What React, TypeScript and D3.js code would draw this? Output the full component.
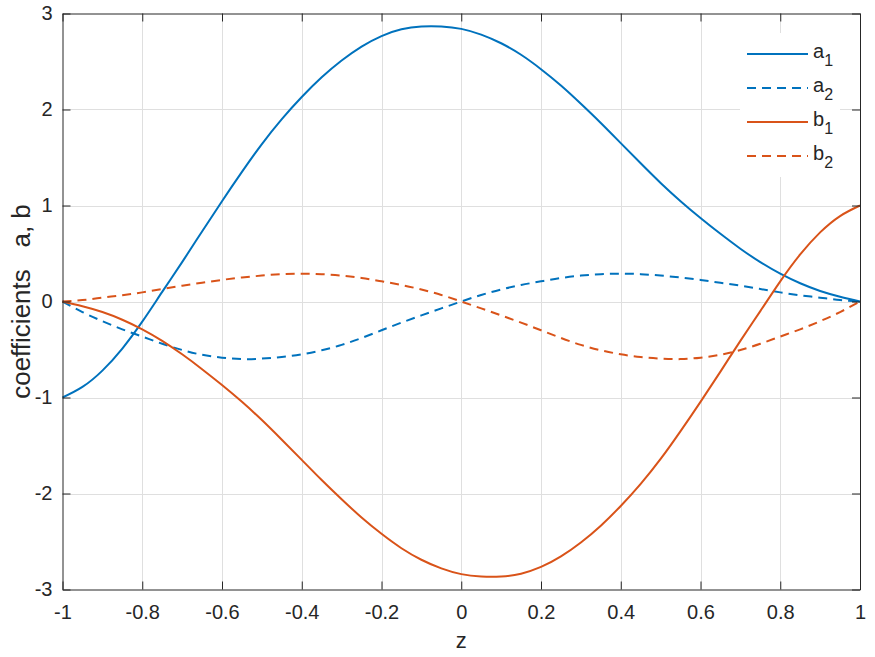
import React, { useEffect, useRef } from 'react'
import * as d3 from 'd3'

// sample positions along z
const zValues = [
  -1, -0.95, -0.9, -0.85, -0.8, -0.75, -0.7, -0.65, -0.6, -0.55, -0.5, -0.45, -0.4, -0.35, -0.3,
  -0.25, -0.2, -0.15, -0.1, -0.05, 0, 0.05, 0.1, 0.15, 0.2, 0.25, 0.3, 0.35, 0.4, 0.45, 0.5, 0.55,
  0.6, 0.65, 0.7, 0.75, 0.8, 0.85, 0.9, 0.95, 1,
]

// values
const a1 = [
  -1.0, -0.89, -0.72, -0.49, -0.21, 0.1, 0.41, 0.73, 1.045, 1.35, 1.64, 1.9, 2.13, 2.335, 2.51,
  2.655, 2.765, 2.835, 2.865, 2.865, 2.84, 2.78, 2.69, 2.57, 2.42, 2.25, 2.06, 1.86, 1.65, 1.44,
  1.235, 1.045, 0.87, 0.705, 0.55, 0.41, 0.29, 0.19, 0.11, 0.05, 0.0,
]
const a2 = [
  0, -0.11, -0.205, -0.29, -0.365, -0.44, -0.505, -0.555, -0.585, -0.6, -0.595, -0.578, -0.55,
  -0.508, -0.452, -0.38, -0.3, -0.22, -0.145, -0.072, 0, 0.068, 0.125, 0.172, 0.21, 0.245, 0.27,
  0.285, 0.29, 0.285, 0.27, 0.25, 0.225, 0.195, 0.165, 0.13, 0.095, 0.065, 0.04, 0.015, 0,
]
const b1 = [
  0.0, -0.05, -0.11, -0.19, -0.29, -0.41, -0.55, -0.705, -0.87, -1.045, -1.235, -1.44, -1.65,
  -1.86, -2.06, -2.25, -2.42, -2.57, -2.69, -2.78, -2.84, -2.865, -2.865, -2.835, -2.765, -2.655,
  -2.51, -2.335, -2.13, -1.9, -1.64, -1.35, -1.045, -0.73, -0.41, -0.1, 0.21, 0.49, 0.72, 0.89, 1.0,
]
const b2 = [
  0, 0.015, 0.04, 0.065, 0.095, 0.13, 0.165, 0.195, 0.225, 0.25, 0.27, 0.285, 0.29, 0.285, 0.27,
  0.245, 0.21, 0.172, 0.125, 0.068, 0, -0.072, -0.145, -0.22, -0.3, -0.38, -0.452, -0.508, -0.55,
  -0.578, -0.595, -0.6, -0.585, -0.555, -0.505, -0.44, -0.365, -0.29, -0.205, -0.11, 0,
]

const seriesNames = ['a', 'a', 'b', 'b']
const seriesSubs = ['1', '2', '1', '2']
const seriesValues = [a1, a2, b1, b2]
const seriesColors = ['#0072BD', '#0072BD', '#D95319', '#D95319']
const seriesDashed = [false, true, false, true]

const xTicks = [-1, -0.8, -0.6, -0.4, -0.2, 0, 0.2, 0.4, 0.6, 0.8, 1]
const yTicks = [-3, -2, -1, 0, 1, 2, 3]

const FONT = '"Liberation Sans", Arial, Helvetica, sans-serif'
const INK = '#262626'

const App: React.FC = () => {
  const ref = useRef<SVGSVGElement>(null)

  useEffect(() => {
    const width = 875
    const height = 657
    const left = 62.5
    const right = 860
    const top = 13.5
    const bottom = 589.5

    const svg = d3.select(ref.current)
    svg.selectAll('*').remove()
    svg.attr('width', width).attr('height', height)

    const xScale = d3.scaleLinear().domain([-1, 1]).range([left, right])
    const yScale = d3.scaleLinear().domain([-3, 3]).range([bottom, top])

    svg.append('rect').attr('width', width).attr('height', height).attr('fill', '#fff')

    /* grid */
    const grid = svg.append('g').attr('stroke', '#dfdfdf').attr('stroke-width', 1)
    grid
      .selectAll('.vg')
      .data(xTicks.slice(1, -1))
      .enter()
      .append('line')
      .attr('x1', (d) => Math.round(xScale(d)) + 0.5)
      .attr('x2', (d) => Math.round(xScale(d)) + 0.5)
      .attr('y1', top)
      .attr('y2', bottom)
    grid
      .selectAll('.hg')
      .data(yTicks.slice(1, -1))
      .enter()
      .append('line')
      .attr('y1', (d) => Math.round(yScale(d)) + 0.5)
      .attr('y2', (d) => Math.round(yScale(d)) + 0.5)
      .attr('x1', left)
      .attr('x2', right)

    /* lines */
    const line = d3
      .line<number>()
      .x((_, i) => xScale(zValues[i]))
      .y((d) => yScale(d))
      .curve(d3.curveNatural)

    svg
      .append('clipPath')
      .attr('id', 'plot-clip')
      .append('rect')
      .attr('x', left - 2)
      .attr('y', top - 2)
      .attr('width', right - left + 4)
      .attr('height', bottom - top + 4)

    const lines = svg.append('g').attr('clip-path', 'url(#plot-clip)')
    seriesValues.forEach((vals, k) => {
      lines
        .append('path')
        .attr('d', line(vals))
        .attr('fill', 'none')
        .attr('stroke', seriesColors[k])
        .attr('stroke-width', 2)
        .attr('stroke-dasharray', seriesDashed[k] ? '9,6' : null)
    })

    /* axes */
    const styleAxis = (g: any) => {
      g.selectAll('.domain').attr('stroke', INK).attr('stroke-width', 1)
      g.selectAll('.tick line').attr('stroke', INK).attr('stroke-width', 1)
      g.selectAll('.tick text')
        .attr('fill', INK)
        .style('font-family', FONT)
        .style('font-size', '20px')
    }
    const fmt = (d: any) => String(+d)

    svg
      .append('g')
      .attr('transform', `translate(0, ${bottom})`)
      .call(
        d3
          .axisBottom(xScale)
          .tickValues(xTicks)
          .tickSize(-8)
          .tickSizeOuter(0)
          .tickPadding(15)
          .tickFormat(fmt)
      )
      .call(styleAxis)
    svg
      .append('g')
      .attr('transform', `translate(0, ${top})`)
      .call(d3.axisTop(xScale).tickValues(xTicks).tickSize(-8).tickSizeOuter(0).tickFormat(() => ''))
      .call(styleAxis)
    svg
      .append('g')
      .attr('transform', `translate(${left}, 0)`)
      .call(
        d3
          .axisLeft(yScale)
          .tickValues(yTicks)
          .tickSize(-8)
          .tickSizeOuter(0)
          .tickPadding(10)
          .tickFormat(fmt)
      )
      .call(styleAxis)
    svg
      .append('g')
      .attr('transform', `translate(${right}, 0)`)
      .call(d3.axisRight(yScale).tickValues(yTicks).tickSize(-8).tickSizeOuter(0).tickFormat(() => ''))
      .call(styleAxis)

    /* axis labels */
    svg
      .append('text')
      .attr('x', (left + right) / 2)
      .attr('y', 648)
      .attr('text-anchor', 'middle')
      .attr('fill', INK)
      .style('font-family', FONT)
      .style('font-size', '22px')
      .text('z')

    svg
      .append('text')
      .attr('transform', `translate(30, ${(top + bottom) / 2}) rotate(-90)`)
      .attr('text-anchor', 'middle')
      .attr('fill', INK)
      .style('font-family', FONT)
      .style('font-size', '26px')
      .style('white-space', 'pre')
      .text('coefficients   a, b')

    /* legend */
    const legend = svg.append('g')
    legend
      .append('rect')
      .attr('x', 740)
      .attr('y', 33)
      .attr('width', 100)
      .attr('height', 144)
      .attr('fill', '#fff')

    seriesNames.forEach((name, k) => {
      const ly = 54 + k * 34
      legend
        .append('line')
        .attr('x1', 747)
        .attr('x2', 808)
        .attr('y1', ly)
        .attr('y2', ly)
        .attr('stroke', seriesColors[k])
        .attr('stroke-width', 2)
        .attr('stroke-dasharray', seriesDashed[k] ? '9,6' : null)
      const t = legend
        .append('text')
        .attr('x', 813)
        .attr('y', ly + 4)
        .attr('fill', INK)
        .style('font-family', FONT)
        .style('font-size', '20px')
      t.append('tspan').text(name)
      t.append('tspan').attr('dy', 8).style('font-size', '16px').text(seriesSubs[k])
    })
  }, [])

  return <svg ref={ref} style={{ display: 'block', position: 'absolute', left: 0, top: 0 }} />
}

export default App
